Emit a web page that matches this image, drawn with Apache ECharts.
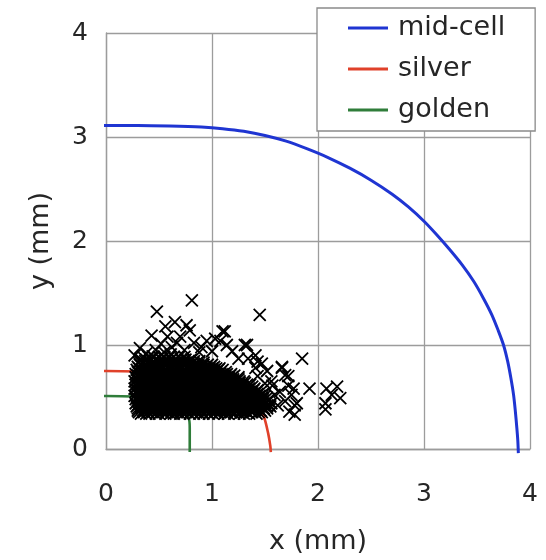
<!DOCTYPE html>
<html>
<head>
<meta charset="utf-8">
<script src="https://cdn.jsdelivr.net/npm/echarts@6/dist/echarts.min.js"></script>
<style>
  html, body { margin: 0; padding: 0; background: #fff; }
  #chart { width: 546px; height: 560px; }
</style>
</head>
<body>
<div id="chart"></div>
<script>
// Boundary curves (x, y in mm)
const curveNames = ['mid-cell', 'silver', 'golden'];
const curveColors = ['#1f35d2', '#e0412a', '#2f7d3a'];

const midCell = [
  [-0.06, 3.11], [0, 3.11], [0.3, 3.11], [0.6, 3.105], [0.9, 3.095], [1.1, 3.08],
  [1.3, 3.055], [1.5, 3.015], [1.7, 2.96], [1.9, 2.885], [2.1, 2.8], [2.3, 2.7],
  [2.5, 2.585], [2.7, 2.45], [2.85, 2.33], [3.0, 2.19], [3.12, 2.06], [3.24, 1.92],
  [3.36, 1.77], [3.47, 1.61], [3.56, 1.45], [3.64, 1.29], [3.7, 1.14], [3.75, 1.0],
  [3.79, 0.84], [3.82, 0.68], [3.845, 0.52], [3.862, 0.36], [3.876, 0.2], [3.885, 0.08],
  [3.89, -0.04]
];

const silver = [
  [-0.06, 0.75], [0, 0.75], [0.3, 0.745], [0.6, 0.73], [0.9, 0.7], [1.1, 0.65],
  [1.25, 0.58], [1.36, 0.5], [1.44, 0.4], [1.49, 0.31], [1.53, 0.15], [1.55, 0.03],
  [1.555, -0.03]
];

const golden = [
  [-0.06, 0.51], [0, 0.51], [0.25, 0.505], [0.45, 0.48], [0.6, 0.43], [0.7, 0.37],
  [0.78, 0.3], [0.79, 0.2], [0.79, 0.1], [0.79, -0.03]
];

// Particle positions, dense core listed row by row: [y, [x values]]
const coreRows = [
  [0.34,  [0.33,0.38,0.41,0.47,0.50,0.56,0.61,0.64,0.70,0.73,0.79,0.83,0.88,0.92,0.97,1.01,1.06,1.12,1.15,1.21,1.26,1.30,1.35,1.42]],
  [0.355, [0.31,0.36,0.40,0.44,0.48,0.53,0.58,0.62,0.67,0.72,0.76,0.81,0.85,0.90,0.95,0.99,1.03,1.08,1.13,1.18,1.23,1.28,1.33,1.38,1.44,1.47]],
  [0.37,  [0.30,0.35,0.39,0.44,0.49,0.53,0.58,0.62,0.67,0.71,0.76,0.81,0.85,0.90,0.94,0.99,1.04,1.08,1.13,1.17,1.22,1.27,1.31,1.36,1.40,1.46,1.50]],
  [0.39,  [0.30,0.34,0.39,0.44,0.48,0.53,0.57,0.62,0.66,0.71,0.75,0.80,0.84,0.89,0.94,0.98,1.03,1.07,1.12,1.16,1.21,1.26,1.30,1.35,1.39,1.44,1.49,1.52]],
  [0.41,  [0.29,0.33,0.37,0.42,0.46,0.51,0.55,0.60,0.65,0.69,0.74,0.78,0.83,0.87,0.92,0.97,1.01,1.06,1.10,1.15,1.19,1.24,1.29,1.33,1.38,1.42,1.47,1.52,1.55]],
  [0.425, [0.30,0.35,0.39,0.44,0.48,0.53,0.57,0.62,0.67,0.71,0.76,0.80,0.85,0.89,0.94,0.99,1.03,1.08,1.12,1.17,1.21,1.26,1.31,1.35,1.40,1.44,1.49,1.54]],
  [0.44,  [0.28,0.32,0.36,0.41,0.45,0.50,0.54,0.59,0.63,0.68,0.72,0.77,0.82,0.86,0.91,0.95,1.00,1.04,1.09,1.14,1.18,1.23,1.27,1.32,1.36,1.41,1.45,1.50,1.56]],
  [0.46,  [0.30,0.34,0.39,0.43,0.48,0.52,0.57,0.61,0.66,0.70,0.75,0.80,0.84,0.89,0.93,0.98,1.02,1.07,1.11,1.16,1.21,1.25,1.30,1.34,1.39,1.43,1.48,1.53]],
  [0.48,  [0.28,0.33,0.37,0.42,0.47,0.51,0.56,0.60,0.65,0.69,0.74,0.79,0.83,0.88,0.92,0.97,1.02,1.06,1.11,1.15,1.20,1.25,1.29,1.34,1.38,1.43,1.48,1.54]],
  [0.495, [0.29,0.34,0.38,0.43,0.47,0.52,0.56,0.61,0.65,0.70,0.74,0.79,0.83,0.88,0.93,0.97,1.02,1.06,1.11,1.15,1.20,1.24,1.29,1.33,1.38,1.43,1.47,1.52]],
  [0.51,  [0.27,0.31,0.36,0.40,0.45,0.49,0.54,0.58,0.63,0.67,0.72,0.76,0.81,0.85,0.90,0.95,0.99,1.04,1.08,1.13,1.18,1.22,1.27,1.31,1.36,1.41,1.45,1.50]],
  [0.53,  [0.29,0.34,0.38,0.43,0.47,0.52,0.56,0.61,0.65,0.70,0.74,0.79,0.83,0.88,0.93,0.97,1.02,1.06,1.11,1.16,1.20,1.25,1.29,1.34,1.39,1.43,1.48]],
  [0.55,  [0.28,0.32,0.37,0.41,0.46,0.50,0.55,0.59,0.64,0.69,0.73,0.78,0.82,0.87,0.91,0.96,1.01,1.05,1.10,1.14,1.19,1.23,1.28,1.33,1.37,1.42,1.46]],
  [0.565, [0.30,0.34,0.39,0.43,0.48,0.52,0.57,0.61,0.66,0.71,0.75,0.80,0.84,0.89,0.93,0.98,1.02,1.07,1.12,1.16,1.21,1.25,1.30,1.34,1.39,1.43]],
  [0.58,  [0.27,0.31,0.35,0.40,0.44,0.49,0.53,0.58,0.62,0.67,0.71,0.76,0.80,0.85,0.89,0.94,0.99,1.03,1.08,1.12,1.17,1.21,1.26,1.31,1.35,1.40]],
  [0.60,  [0.29,0.33,0.38,0.42,0.47,0.51,0.56,0.60,0.65,0.69,0.74,0.78,0.83,0.87,0.92,0.97,1.01,1.06,1.10,1.15,1.19,1.24,1.29,1.34,1.38]],
  [0.62,  [0.28,0.33,0.37,0.42,0.46,0.51,0.55,0.60,0.64,0.69,0.74,0.78,0.83,0.87,0.92,0.96,1.01,1.06,1.10,1.15,1.19,1.24,1.28,1.33,1.36]],
  [0.635, [0.30,0.35,0.39,0.44,0.48,0.53,0.57,0.62,0.66,0.71,0.76,0.80,0.85,0.89,0.94,0.98,1.03,1.08,1.12,1.17,1.21,1.26,1.31]],
  [0.65,  [0.27,0.31,0.36,0.40,0.45,0.49,0.54,0.58,0.63,0.67,0.72,0.76,0.81,0.86,0.90,0.95,0.99,1.04,1.08,1.13,1.17,1.22,1.26,1.30]],
  [0.67,  [0.29,0.34,0.38,0.43,0.47,0.52,0.56,0.61,0.66,0.70,0.75,0.79,0.84,0.88,0.93,0.97,1.02,1.07,1.11,1.16,1.20,1.25]],
  [0.69,  [0.28,0.32,0.37,0.41,0.46,0.50,0.55,0.60,0.64,0.69,0.73,0.78,0.82,0.87,0.91,0.96,1.00,1.05,1.10,1.14,1.19,1.25]],
  [0.705, [0.30,0.35,0.39,0.44,0.48,0.53,0.58,0.62,0.67,0.71,0.76,0.80,0.85,0.90,0.94,0.99,1.03,1.08,1.12,1.17,1.21]],
  [0.72,  [0.28,0.33,0.38,0.42,0.47,0.51,0.56,0.60,0.65,0.69,0.74,0.78,0.83,0.88,0.92,0.97,1.01,1.06,1.10,1.14,1.18]],
  [0.74,  [0.30,0.35,0.40,0.45,0.49,0.54,0.58,0.63,0.67,0.72,0.76,0.81,0.86,0.90,0.95,0.99,1.04,1.08,1.13]],
  [0.76,  [0.29,0.34,0.38,0.43,0.47,0.52,0.56,0.61,0.65,0.70,0.75,0.79,0.84,0.88,0.93,0.97,1.02,1.06,1.10]],
  [0.775, [0.31,0.36,0.41,0.45,0.50,0.54,0.59,0.63,0.68,0.72,0.77,0.82,0.86,0.91,0.95,1.00,1.04,1.07]],
  [0.79,  [0.30,0.35,0.39,0.44,0.48,0.53,0.58,0.62,0.67,0.71,0.76,0.80,0.85,0.89,0.94,0.98,1.02]],
  [0.81,  [0.32,0.37,0.42,0.46,0.51,0.55,0.60,0.65,0.69,0.74,0.78,0.83,0.87,0.92,0.96,1.00]],
  [0.83,  [0.31,0.36,0.40,0.45,0.50,0.54,0.59,0.63,0.68,0.72,0.77,0.82,0.86,0.92]],
  [0.845, [0.32,0.37,0.41,0.45,0.50,0.55,0.59,0.64,0.68,0.73,0.78,0.83,0.88]],
  [0.86,  [0.33,0.38,0.42,0.47,0.52,0.57,0.61,0.66,0.71,0.75,0.80]],
  [0.885, [0.35,0.40,0.45,0.50,0.55,0.60,0.64,0.69,0.74]]
];

// Sparser particles around the core
const outerPoints = [
  [0.27, 0.90], [0.32, 0.97], [0.38, 0.92], [0.44, 0.89], [0.47, 0.95], [0.43, 1.09],
  [0.52, 1.01], [0.55, 0.93], [0.58, 1.08], [0.56, 1.18], [0.61, 0.91], [0.62, 0.98],
  [0.65, 1.22], [0.67, 1.02], [0.70, 1.08], [0.74, 0.95], [0.76, 1.19], [0.79, 1.14],
  [0.83, 1.02], [0.88, 0.93], [0.90, 0.98], [0.95, 1.04], [1.00, 0.94], [1.03, 1.06],
  [1.08, 1.04], [1.10, 1.13], [1.12, 1.13], [1.14, 1.00], [1.19, 0.94], [1.25, 0.87],
  [1.31, 1.00], [1.33, 1.00], [1.34, 0.87], [1.41, 0.90], [1.41, 0.78], [1.43, 0.84],
  [1.43, 0.70], [1.47, 0.82], [1.50, 0.63], [1.52, 0.75], [1.56, 0.65], [1.57, 0.61],
  [1.59, 0.52], [1.62, 0.42], [1.64, 0.55], [1.66, 0.78], [1.66, 0.79], [1.69, 0.71],
  [1.69, 0.46], [1.72, 0.61], [1.72, 0.70], [1.73, 0.36], [1.75, 0.52], [1.77, 0.58],
  [1.78, 0.42], [1.78, 0.33], [1.80, 0.44], [1.85, 0.87], [1.92, 0.58],
  [2.07, 0.44], [2.07, 0.38], [2.08, 0.58], [2.13, 0.52], [2.18, 0.60], [2.21, 0.49],
  [0.48, 1.32], [0.81, 1.43], [1.45, 1.29]
];

const particles = [];
coreRows.forEach(function (row) {
  row[1].forEach(function (x) { particles.push([x, row[0]]); });
});
outerPoints.forEach(function (p) { particles.push(p); });

const FONT = "'DejaVu Sans', Verdana, sans-serif";
const TEXT = '#262626';
const GRID = '#9c9c9c';

const chart = echarts.init(document.getElementById('chart'), null, { renderer: 'canvas' });

const lineSeries = [midCell, silver, golden].map(function (pts, i) {
  return {
    name: curveNames[i],
    type: 'line',
    data: pts,
    showSymbol: false,
    symbol: 'none',
    smooth: 0.3,
    clip: false,
    lineStyle: { color: curveColors[i], width: i === 0 ? 3 : 2.6 },
    itemStyle: { color: curveColors[i] },
    z: 3
  };
});

chart.setOption({
  animation: false,
  backgroundColor: '#fff',
  textStyle: { fontFamily: FONT },
  grid: { left: 106, top: 33, right: 16, bottom: 109, containLabel: false },
  xAxis: {
    type: 'value', min: 0, max: 4, interval: 1,
    name: 'x (mm)', nameLocation: 'middle', nameGap: 79,
    nameTextStyle: { fontSize: 27, color: TEXT, fontFamily: FONT },
    axisLine: { lineStyle: { color: GRID, width: 1.3 } },
    axisTick: { show: false },
    axisLabel: { fontSize: 25, color: TEXT, margin: 33, fontFamily: FONT },
    splitLine: { show: true, lineStyle: { color: GRID, width: 1.3 } }
  },
  yAxis: {
    type: 'value', min: 0, max: 4, interval: 1,
    name: 'y (mm)', nameLocation: 'middle', nameGap: 52,
    nameTextStyle: { fontSize: 27, color: TEXT, fontFamily: FONT },
    axisLine: { show: true, lineStyle: { color: GRID, width: 1.3 } },
    axisTick: { show: false },
    axisLabel: { fontSize: 25, color: TEXT, margin: 18, fontFamily: FONT },
    splitLine: { show: true, lineStyle: { color: GRID, width: 1.3 } }
  },
  legend: {
    data: curveNames,
    orient: 'vertical',
    left: 317, top: 8,
    padding: [5, 30, 6, 31],
    itemGap: 11,
    icon: 'rect',
    itemWidth: 40, itemHeight: 3,
    backgroundColor: '#fff',
    borderColor: '#8a8a8a', borderWidth: 1.3,
    textStyle: { fontSize: 27, color: TEXT, fontFamily: FONT, lineHeight: 30, padding: [0, 0, 0, 5] }
  },
  series: lineSeries.concat([{
    type: 'scatter',
    data: particles,
    symbol: 'path://M0,0L10,10M10,0L0,10',
    symbolSize: 12,
    progressive: 0,
    large: false,
    itemStyle: { color: 'transparent', borderColor: '#000', borderWidth: 1.8, opacity: 1 },
    emphasis: { disabled: true },
    z: 4
  }])
});
</script>
</body>
</html>
